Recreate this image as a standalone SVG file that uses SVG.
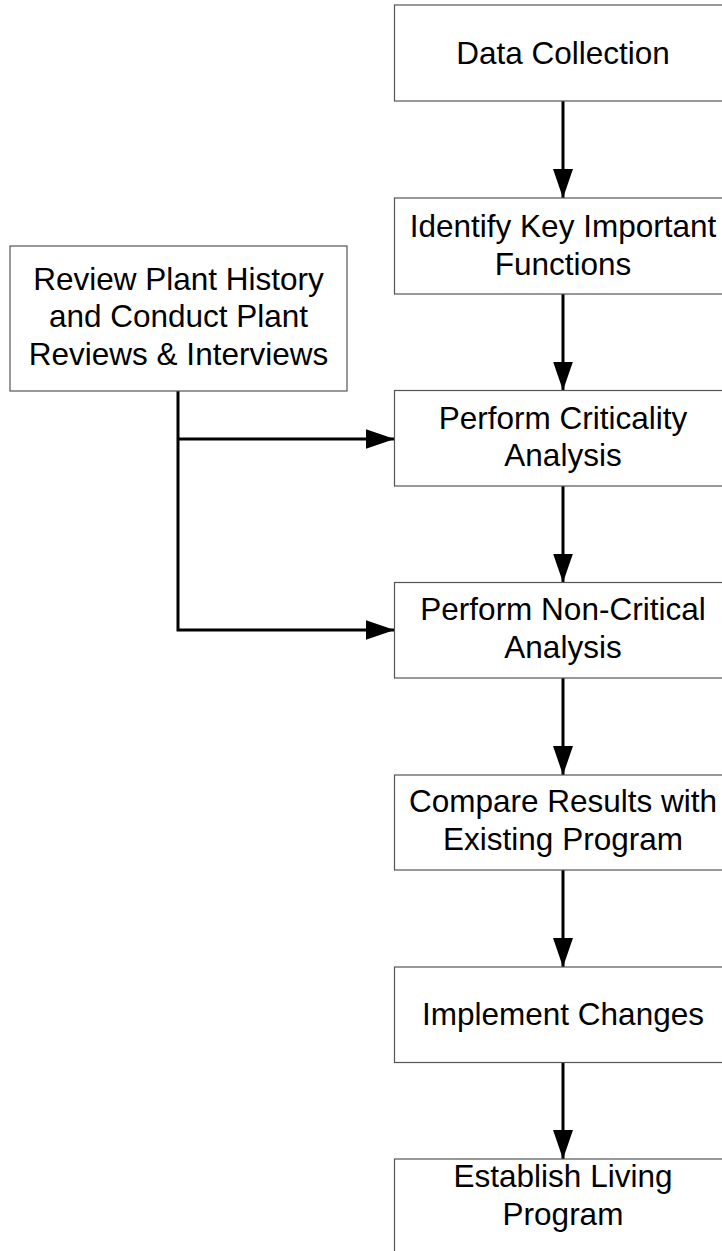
<svg xmlns="http://www.w3.org/2000/svg" width="722" height="1251" viewBox="0 0 722 1251">
<defs>
<marker id="ah" markerUnits="userSpaceOnUse" markerWidth="30" markerHeight="22" refX="29" refY="10" orient="auto">
<path d="M0,0 L29,10 L0,20 Z" fill="#000"/>
</marker>
<style>
.box{fill:#fff;stroke:#555;stroke-width:1.2}
.t{font-family:"Liberation Sans",Arial,sans-serif;font-size:31.5px;fill:#000;text-anchor:middle}
.c{fill:none;stroke:#000;stroke-width:3}
</style>
</defs>
<rect width="722" height="1251" fill="#fff"/>
<g id="connectors">
<line class="c" x1="563" y1="101" x2="563" y2="198" marker-end="url(#ah)"/>
<line class="c" x1="563" y1="294" x2="563" y2="390.5" marker-end="url(#ah)"/>
<line class="c" x1="563" y1="486" x2="563" y2="582.5" marker-end="url(#ah)"/>
<line class="c" x1="563" y1="678" x2="563" y2="775" marker-end="url(#ah)"/>
<line class="c" x1="563" y1="870" x2="563" y2="967" marker-end="url(#ah)"/>
<line class="c" x1="563" y1="1062.5" x2="563" y2="1159" marker-end="url(#ah)"/>
<polyline class="c" points="178,391 178,630 394.5,630" marker-end="url(#ah)"/>
<line class="c" x1="178" y1="439" x2="394.5" y2="439" marker-end="url(#ah)"/>
</g>
<g id="n_data">
<rect class="box" x="394.5" y="5" width="340" height="96"/>
<text class="t" x="563" y="64">Data Collection</text>
</g>
<g id="n_identify">
<rect class="box" x="394.5" y="198" width="340" height="96"/>
<text class="t" x="563" y="237">Identify Key Important</text>
<text class="t" x="563" y="274.5">Functions</text>
</g>
<g id="n_review">
<rect class="box" x="10" y="246" width="337" height="145"/>
<text class="t" x="178.5" y="289.5">Review Plant History</text>
<text class="t" x="178.5" y="327">and Conduct Plant</text>
<text class="t" x="178.5" y="364.5">Reviews &amp; Interviews</text>
</g>
<g id="n_crit">
<rect class="box" x="394.5" y="390.5" width="340" height="95.5"/>
<text class="t" x="563" y="428.5">Perform Criticality</text>
<text class="t" x="563" y="466">Analysis</text>
</g>
<g id="n_noncrit">
<rect class="box" x="394.5" y="582.5" width="340" height="95.5"/>
<text class="t" x="563" y="620">Perform Non-Critical</text>
<text class="t" x="563" y="657.5">Analysis</text>
</g>
<g id="n_compare">
<rect class="box" x="394.5" y="775" width="340" height="95"/>
<text class="t" x="563" y="812">Compare Results with</text>
<text class="t" x="563" y="850">Existing Program</text>
</g>
<g id="n_implement">
<rect class="box" x="394.5" y="967" width="340" height="95.5"/>
<text class="t" x="563" y="1025">Implement Changes</text>
</g>
<g id="n_establish">
<rect class="box" x="394.5" y="1159" width="340" height="100"/>
<text class="t" x="563" y="1187">Establish Living</text>
<text class="t" x="563" y="1225">Program</text>
</g>
</svg>
